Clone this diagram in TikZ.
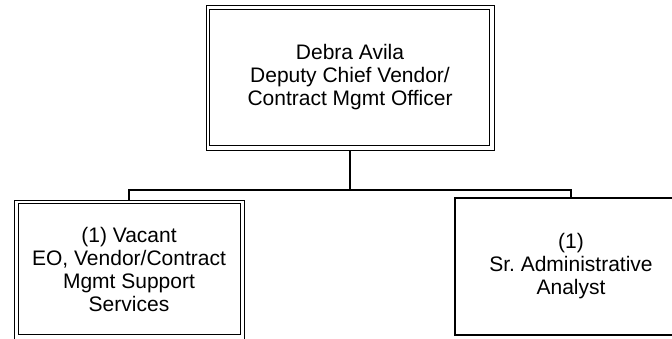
\documentclass[tikz,border=0pt]{standalone}
\usepackage{fontspec}
\setmainfont{Liberation Sans}
\frenchspacing
\begin{document}
\begin{tikzpicture}[x=1pt, y=-1pt, node distance=192pt,
  posbox/.style={draw, line width=1.6pt, align=center, inner sep=0pt, font=\fontsize{21}{23}\selectfont},
  outerbox/.style={posbox, line width=0.8pt},
  inframe/.style={line width=1.6pt},
  link/.style={line width=1.4pt}]
\useasboundingbox (0,0) rectangle (672,338);
\clip (0,0) rectangle (672,338);
% head of the unit
\node[outerbox, minimum width=288pt, minimum height=145pt] (lead) at (350,77.5) {Debra Avila\\Deputy Chief Vendor/\\Contract Mgmt Officer};
\draw[inframe] ([xshift=4pt,yshift=-5pt]lead.north west) rectangle ([xshift=-5pt,yshift=5pt]lead.south east);
% positions below
\node[outerbox, below of=lead, xshift=-221pt, minimum width=230pt, minimum height=139pt] (vac) {(1) Vacant\\EO, Vendor/Contract\\Mgmt Support\\Services};
\draw[inframe] ([xshift=5pt,yshift=-4pt]vac.north west) rectangle ([xshift=-4pt,yshift=5pt]vac.south east);
\node[posbox, below of=lead, node distance=189pt, xshift=221pt, minimum width=232pt, minimum height=137pt] (analyst) {(1)\\Sr. Administrative\\Analyst};
% connectors
\coordinate[below of=lead, node distance=112.5pt] (bus);
\draw[link] (lead)--(bus);\draw[link] (bus)-|(vac);\draw[link] (bus)-|(analyst);
\end{tikzpicture}
\end{document}
